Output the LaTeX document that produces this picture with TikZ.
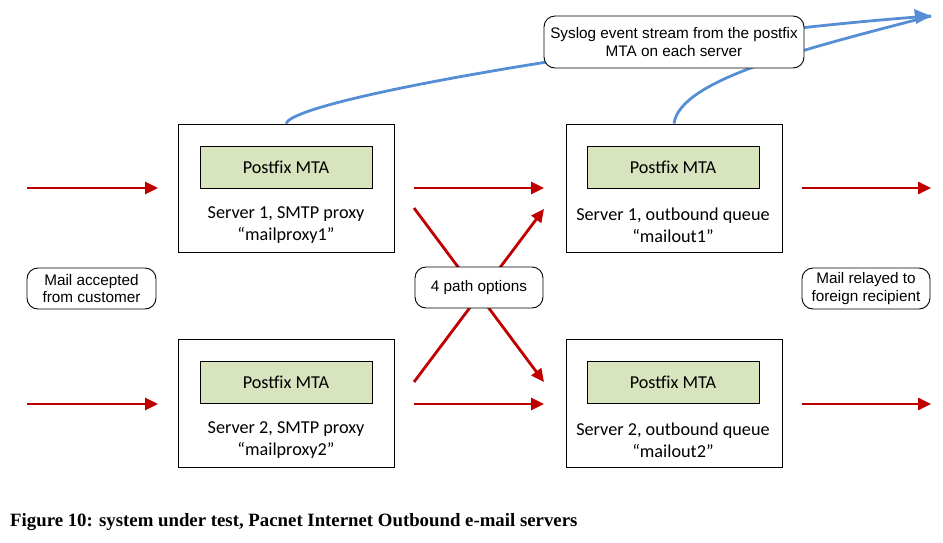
\documentclass[tikz,border=0pt]{standalone}
\usepackage{fontspec}
\setmainfont{Liberation Sans}
\newfontfamily\boxfont{Carlito}
\newfontfamily\capfont{Liberation Serif}
\usetikzlibrary{arrows.meta}
\definecolor{mred}{RGB}{192,0,0}
\definecolor{mblue}{RGB}{85,142,213}
\definecolor{mgreen}{RGB}{215,228,189}
\tikzset{
  server/.style={draw=black, line width=0.9pt, minimum width=216pt, minimum height=128pt, inner sep=0pt},
  mta/.style={draw=black, line width=0.9pt, fill=mgreen, minimum width=172pt, minimum height=42pt, inner sep=0pt, font=\boxfont\fontsize{18.2}{21}\selectfont},
  slabel/.style={font=\boxfont\fontsize{18.2}{22}\selectfont, align=center, inner sep=0pt},
  callout/.style={draw=black, line width=0.9pt, fill=white, rounded corners=11pt, align=center, inner sep=0pt, font=\fontsize{15.3}{17.5}\selectfont},
  redarrow/.style={draw=mred, line width=2.8pt, -{Triangle[length=13pt,width=12pt]}},
  bluearrow/.style={draw=mblue, line width=2.8pt},
}
\begin{document}
\begin{tikzpicture}[x=1pt,y=-1pt]
\useasboundingbox (0,0) rectangle (943,542);
% servers
\node[server] (p1) at (286,188) {};
\node[server] (p2) at (286,403) {};
\node[server] (o1) at (674,188) {};
\node[server] (o2) at (674,403) {};
\node[mta] (m1) at (286,167) {Postfix MTA};
\node[mta] (m2) at (286,382) {Postfix MTA};
\node[mta] (m3) at (673,167) {Postfix MTA};
\node[mta] (m4) at (673,382) {Postfix MTA};
\node[slabel] (l1) at (286,225) {Server 1, SMTP proxy\\“mailproxy1”};
\node[slabel] (l2) at (286,440) {Server 2, SMTP proxy\\“mailproxy2”};
\node[slabel] (l3) at (673,225) {Server 1, outbound queue\\“mailout1”};
\node[slabel] (l4) at (673,440) {Server 2, outbound queue\\“mailout2”};
% coordinates for arrows
\coordinate (a1s) at (27,188); \coordinate (a1e) at (158,188);
\coordinate (a2s) at (27,404); \coordinate (a2e) at (158,404);
\coordinate (b1s) at (414,188); \coordinate (b1e) at (544,188);
\coordinate (b2s) at (414,404); \coordinate (b2e) at (544,404);
\coordinate (c1s) at (802,188); \coordinate (c1e) at (931,188);
\coordinate (c2s) at (802,404); \coordinate (c2e) at (931,404);
\coordinate (x1s) at (414,208); \coordinate (x1e) at (544,382);
\coordinate (x2s) at (414,382); \coordinate (x2e) at (544,209);
\coordinate (tip) at (931,16);
% blue syslog curves (behind callout)
\draw[bluearrow] (p1.north) .. controls (296,96) and (700,32) .. (tip);
\draw[bluearrow] (o1.north) .. controls (680,80) and (800,50) .. (tip);
\fill[mblue] (tip) -- ++(-17,-7) -- ++(2,15) -- cycle;
% red arrows
\draw[redarrow] (a1s) -- (a1e);
\draw[redarrow] (a2s) -- (a2e);
\draw[redarrow] (b1s) -- (b1e);
\draw[redarrow] (b2s) -- (b2e);
\draw[redarrow] (c1s) -- (c1e);
\draw[redarrow] (c2s) -- (c2e);
\draw[redarrow] (x1s) -- (x1e);
\draw[redarrow] (x2s) -- (x2e);
% callouts
\node[callout, minimum width=129pt, minimum height=41pt] (cust) at (91.5,288.5) {Mail accepted\\from customer};
\node[callout, minimum width=128pt, minimum height=41pt] (path) at (479,287.5) {4 path options};
\node[callout, minimum width=128pt, minimum height=41pt] (rcpt) at (866,288.5) {Mail relayed to\\foreign recipient};
\node[callout, minimum width=260pt, minimum height=52pt] (sys) at (674,42) {Syslog event stream from the postfix\\MTA on each server};
% caption
\node[anchor=west, inner sep=0pt, font=\capfont\bfseries\fontsize{18.8}{22}\selectfont] (cap) at (10,522) {Figure 10: system under test, Pacnet Internet Outbound e-mail servers};
\end{tikzpicture}
\end{document}
